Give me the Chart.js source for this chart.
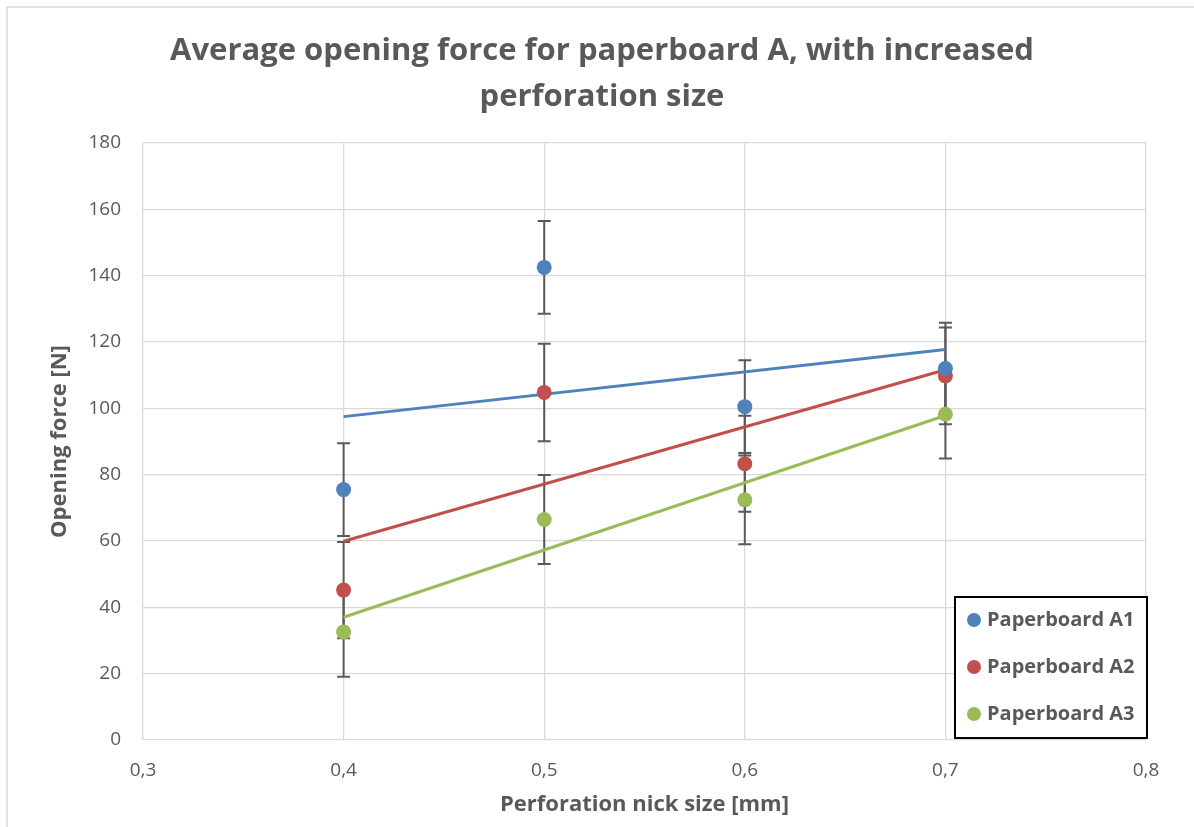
<!DOCTYPE html>
<html>
<head>
<meta charset="utf-8">
<script src="https://cdn.jsdelivr.net/npm/chart.js@4.4.1/dist/chart.umd.min.js"></script>
<style>
  html, body { margin: 0; padding: 0; background: #ffffff; }
  #wrap { position: relative; width: 1194px; height: 827px; }
</style>
</head>
<body>
<div id="wrap"><canvas id="c" width="1194" height="827"></canvas></div>
<script>
// ---- data ----
const titleLines = ['Average opening force for paperboard A, with increased', 'perforation size'];
const xTitle = 'Perforation nick size [mm]';
const yTitle = 'Opening force [N]';
const seriesNames = ['Paperboard A1', 'Paperboard A2', 'Paperboard A3'];
const nickSizes = [0.4, 0.5, 0.6, 0.7];
const forceA1 = [75.5, 142.5, 100.5, 112.0];
const forceA2 = [45.2, 104.8, 83.3, 109.8];
const forceA3 = [32.6, 66.5, 72.4, 98.2];
const errA1 = [14.0, 14.0, 14.0, 13.8];
const errA2 = [14.5, 14.7, 14.5, 14.6];
const errA3 = [13.5, 13.4, 13.4, 13.3];
const xTicks = [0.3, 0.4, 0.5, 0.6, 0.7, 0.8];
const yTicks = [0, 20, 40, 60, 80, 100, 120, 140, 160, 180];

const colors = ['#4f81bd', '#c0504d', '#9bbb59'];
const textColor = '#595959';
const FONT = '"Open Sans", Lato, sans-serif';

const forces = [forceA1, forceA2, forceA3];
const errs = [errA1, errA2, errA3];

function linFit(xs, ys) {
  const n = xs.length;
  const mx = xs.reduce((a, b) => a + b, 0) / n;
  const my = ys.reduce((a, b) => a + b, 0) / n;
  let sxy = 0, sxx = 0;
  for (let i = 0; i < n; i++) { sxy += (xs[i] - mx) * (ys[i] - my); sxx += (xs[i] - mx) ** 2; }
  const b = sxy / sxx;
  return { a: my - b * mx, b };
}

const datasets = [];
forces.forEach((ys, i) => {
  const f = linFit(nickSizes, ys);
  const x0 = nickSizes[0], x1 = nickSizes[nickSizes.length - 1];
  datasets.push({
    type: 'line', label: seriesNames[i] + ' trend', isTrend: true,
    data: [{ x: x0, y: f.a + f.b * x0 }, { x: x1, y: f.a + f.b * x1 }],
    borderColor: colors[i], borderWidth: 3, pointRadius: 0, fill: false, order: 10
  });
});
forces.forEach((ys, i) => {
  datasets.push({
    type: 'scatter', label: seriesNames[i], errIndex: i,
    data: nickSizes.map((x, k) => ({ x, y: ys[k] })),
    backgroundColor: colors[i], borderColor: colors[i], borderWidth: 0,
    pointRadius: 7.5, pointHoverRadius: 7.5, order: 1
  });
});

const fmt = v => (Math.round(v * 10) / 10).toFixed(1).replace('.', ',');

const backgroundPlugin = {
  id: 'bg',
  beforeDraw(chart) {
    const ctx = chart.ctx;
    ctx.save();
    ctx.fillStyle = '#ffffff';
    ctx.fillRect(0, 0, chart.width, chart.height);
    ctx.strokeStyle = '#d9d9d9';
    ctx.lineWidth = 1.5;
    ctx.strokeRect(7, 7, chart.width + 20, chart.height + 20);
    ctx.restore();
  }
};

const errorBarPlugin = {
  id: 'errbars',
  beforeDatasetsDraw(chart) {
    const ctx = chart.ctx, xs = chart.scales.x, ys = chart.scales.y;
    ctx.save();
    ctx.strokeStyle = '#595959';
    ctx.lineWidth = 2;
    chart.data.datasets.forEach(ds => {
      if (ds.errIndex === undefined) return;
      const e = errs[ds.errIndex];
      ds.data.forEach((p, k) => {
        const px = xs.getPixelForValue(p.x);
        const top = ys.getPixelForValue(p.y + e[k]);
        const bot = ys.getPixelForValue(p.y - e[k]);
        ctx.beginPath();
        ctx.moveTo(px, top); ctx.lineTo(px, bot);
        ctx.moveTo(px - 6.5, top); ctx.lineTo(px + 6.5, top);
        ctx.moveTo(px - 6.5, bot); ctx.lineTo(px + 6.5, bot);
        ctx.stroke();
      });
    });
    ctx.restore();
  }
};

const overlayPlugin = {
  id: 'overlay',
  afterDraw(chart) {
    const ctx = chart.ctx, ca = chart.chartArea;
    ctx.save();
    ctx.fillStyle = textColor;
    ctx.textAlign = 'center';
    ctx.textBaseline = 'middle';
    // title
    ctx.font = 'bold 31px ' + FONT;
    ctx.fillText(titleLines[0], 602, 51);
    ctx.fillText(titleLines[1], 602, 97);
    // axis titles
    ctx.font = 'bold 22px ' + FONT;
    ctx.fillText(xTitle, (ca.left + ca.right) / 2, 805);
    ctx.save();
    ctx.translate(60, (ca.top + ca.bottom) / 2);
    ctx.rotate(-Math.PI / 2);
    ctx.fillText(yTitle, 0, 0);
    ctx.restore();
    // legend box
    const w = 192, h = 141;
    const lx = ca.right - w + 1, ly = ca.bottom - h - 2;
    ctx.fillStyle = '#ffffff';
    ctx.fillRect(lx, ly, w, h);
    ctx.strokeStyle = '#000000';
    ctx.lineWidth = 2;
    ctx.strokeRect(lx, ly, w, h);
    const items = chart.data.datasets.filter(d => !d.isTrend);
    ctx.font = 'bold 20px ' + FONT;
    ctx.textAlign = 'left';
    items.forEach((d, i) => {
      const cy = ly + 23 + i * 47;
      ctx.fillStyle = d.backgroundColor;
      ctx.beginPath();
      ctx.arc(lx + 19, cy, 7, 0, Math.PI * 2);
      ctx.fill();
      ctx.fillStyle = textColor;
      ctx.fillText(d.label, lx + 32, cy);
    });
    ctx.restore();
  }
};

new Chart(document.getElementById('c'), {
  data: { datasets },
  options: {
    responsive: false,
    animation: false,
    layout: { padding: { left: 0, top: 143, right: 48, bottom: 0 } },
    plugins: { legend: { display: false }, title: { display: false }, tooltip: { enabled: false } },
    scales: {
      x: {
        type: 'linear', min: 0.3, max: 0.8,
        afterBuildTicks: s => { s.ticks = xTicks.map(v => ({ value: v })); },
        afterFit: s => { s.height = 87; },
        grid: { color: '#d9d9d9', lineWidth: 1.3, drawTicks: false },
        border: { display: false },
        ticks: { color: textColor, font: { family: FONT, size: 19 }, padding: 19, callback: v => fmt(v), maxRotation: 0 }
      },
      y: {
        type: 'linear', min: 0, max: 180,
        afterBuildTicks: s => { s.ticks = yTicks.map(v => ({ value: v })); },
        afterFit: s => { s.width = 143; },
        grid: { color: '#d9d9d9', lineWidth: 1.3, drawTicks: false },
        border: { display: false },
        ticks: { color: textColor, font: { family: FONT, size: 19 }, padding: 22, callback: v => String(v) }
      }
    }
  },
  plugins: [backgroundPlugin, errorBarPlugin, overlayPlugin]
});
</script>
</body>
</html>
